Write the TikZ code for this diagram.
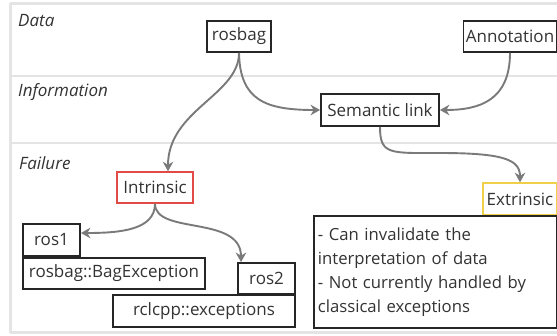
\documentclass[tikz,border=0pt]{standalone}
\usepackage{fontspec}
\setmainfont{Open Sans}
\usetikzlibrary{arrows.meta}
\definecolor{arrowgray}{HTML}{7A7A7A}
\definecolor{lanegray}{HTML}{E4E4E4}
\definecolor{txt}{HTML}{333333}
\definecolor{intred}{HTML}{E24B45}
\definecolor{extyellow}{HTML}{F0D048}
\begin{document}
\begin{tikzpicture}[x=1pt,y=-1pt,
  box/.style={draw=black!85, line width=1.8pt, fill=white, inner sep=0pt,
    minimum height=31pt, text=txt, font=\fontsize{17}{20}\selectfont},
  lane/.style={draw=lanegray, line width=2.5pt},
  lanelabel/.style={anchor=base west, text=txt, inner sep=0pt,
    font=\fontsize{17}{20}\selectfont\itshape},
  conn/.style={draw=arrowgray, line width=1.9pt, -{Stealth[length=9.5pt,width=10.5pt]}}]
\useasboundingbox (0,0) rectangle (557,335);
\fill[white] (0,0) rectangle (557,335);
% lanes
\draw[lane] (10,3.5) -- (557,3.5);
\draw[lane] (10.5,3) -- (10.5,333);
\draw[lane] (10,76) -- (557,76);
\draw[lane] (10,143) -- (557,143);
\draw[lane] (10,332.5) -- (557,332.5);
\node[lanelabel] (ldata) at (18,26) {Data};
\node[lanelabel] (linfo) at (18,96) {Information};
\node[lanelabel] (lfail) at (19,169) {Failure};
% nodes
\node[box, minimum width=64pt] (rosbag) at (239,36.5) {rosbag};
\node[box, minimum width=93pt] (annot) at (510,36.5) {Annotation};
\node[box, minimum width=118pt, minimum height=32pt] (sem) at (380,110) {Semantic link};
\node[box, draw=intred, line width=1.5pt, minimum width=76pt] (intr) at (155,187.5) {Intrinsic};
\node[box, minimum width=57pt, minimum height=32pt] (ros1) at (51.5,240) {ros1};
\node[box, minimum width=182pt] (bag) at (114,273.5) {rosbag::BagException};
\node[box, minimum width=57pt] (ros2) at (266.5,278.5) {ros2};
\node[box, minimum width=182pt, minimum height=32pt] (rcl) at (204,311) {rclcpp::exceptions};
\node[box, draw=extyellow, line width=1.5pt, minimum width=74pt, minimum height=32pt] (ext) at (520,199) {Extrinsic};
\node[box, anchor=north west, minimum width=243pt, minimum height=112pt,
  text width=235pt, align=left, font=\fontsize{16.7}{24}\selectfont] (desc) at (313,215)
  {- Can invalidate the\\interpretation of data\\- Not currently handled by\\classical exceptions};
% connectors
\draw[conn] (rosbag.south) .. controls (239,95) and (168,110) .. ([xshift=13pt]intr.north);
\draw[conn] (rosbag.south) .. controls (240,100) and (265,110) .. (sem.west);
\draw[conn] (annot.south) .. controls (510,100) and (480,110) .. (sem.east);
\draw[conn] (sem.south) .. controls (380,155) and (390,153) .. (440,153)
  .. controls (505,153) and (520,160) .. (ext.north);
\draw[conn] (intr.south) .. controls (155,230) and (120,233) .. ([yshift=7pt]ros1.east);
\draw[conn] (intr.south) .. controls (155,235) and (241,215) .. ([xshift=-25.5pt]ros2.north);
\end{tikzpicture}
\end{document}
